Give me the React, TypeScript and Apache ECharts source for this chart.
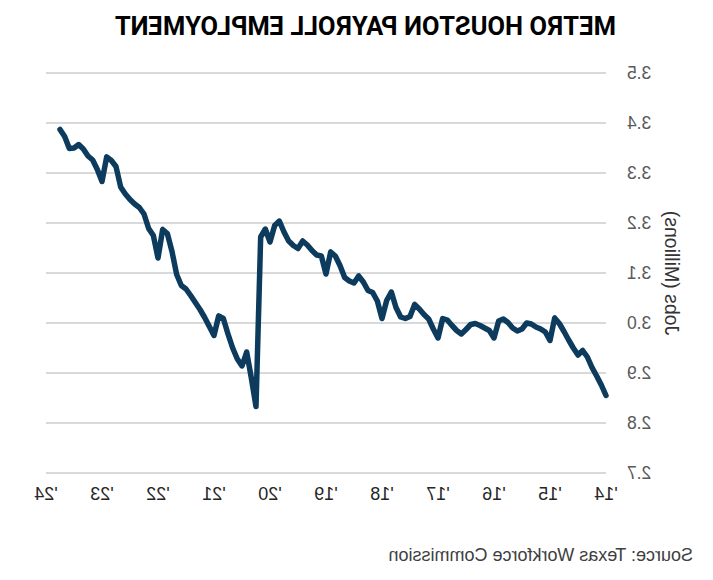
import React, { useEffect, useRef } from "react";
import * as echarts from "echarts";

const title = "METRO HOUSTON PAYROLL EMPLOYMENT";
const source = "Source: Texas Workforce Commission";
const yAxisName = "Jobs (Millions)";
const yearLabels = ["'14", "'15", "'16", "'17", "'18", "'19", "'20", "'21", "'22", "'23", "'24"];

// Monthly payroll employment (millions), Jan 2014 onward
const jobs2014 = [2.855, 2.876, 2.894, 2.911, 2.932, 2.945, 2.936, 2.95, 2.966, 2.983, 2.999, 3.01];
const jobs2015 = [2.965, 2.982, 2.988, 2.992, 2.998, 3.0, 2.988, 2.984, 2.99, 3.001, 3.008, 3.004];
const jobs2016 = [2.97, 2.985, 2.99, 2.995, 2.999, 2.997, 2.987, 2.978, 2.985, 2.995, 3.006, 3.009];
const jobs2017 = [2.97, 2.988, 3.008, 3.017, 3.028, 3.037, 3.013, 3.009, 3.012, 3.031, 3.062, 3.045];
const jobs2018 = [3.009, 3.044, 3.061, 3.065, 3.082, 3.094, 3.08, 3.084, 3.091, 3.115, 3.134, 3.142];
const jobs2019 = [3.098, 3.134, 3.136, 3.145, 3.156, 3.164, 3.149, 3.155, 3.164, 3.182, 3.204, 3.195];
const jobs2020 = [3.162, 3.188, 3.172, 2.833, 2.89, 2.942, 2.914, 2.928, 2.95, 2.978, 3.009, 3.014];
const jobs2021 = [2.975, 2.993, 3.011, 3.027, 3.041, 3.055, 3.068, 3.075, 3.097, 3.143, 3.179, 3.187];
const jobs2022 = [3.13, 3.175, 3.189, 3.218, 3.231, 3.238, 3.247, 3.258, 3.272, 3.313, 3.325, 3.332];
const jobs2023 = [3.283, 3.307, 3.326, 3.334, 3.348, 3.357, 3.35, 3.349, 3.373, 3.387];

const jobs = [
  ...jobs2014, ...jobs2015, ...jobs2016, ...jobs2017, ...jobs2018,
  ...jobs2019, ...jobs2020, ...jobs2021, ...jobs2022, ...jobs2023,
];

export default function App() {
  const ref = useRef<HTMLDivElement>(null);

  useEffect(() => {
    if (!ref.current) return;
    const chart = echarts.init(ref.current, null, { renderer: "svg" });
    const data = jobs.map((v, i) => [i, v]);
    chart.setOption({
      animation: false,
      backgroundColor: "#ffffff",
      grid: { left: 107, right: 46, top: 73, bottom: 107, containLabel: false },
      xAxis: {
        type: "value",
        min: 0,
        max: 120,
        interval: 12,
        axisLine: { show: false },
        axisTick: { show: false },
        splitLine: { show: false },
        axisLabel: {
          margin: 12,
          fontSize: 18,
          color: "#262626",
          fontFamily: "Liberation Sans",
          formatter: (v: number) => yearLabels[Math.round(v / 12)] ?? "",
        },
      },
      yAxis: {
        type: "value",
        min: 2.7,
        max: 3.5,
        interval: 0.1,
        name: yAxisName,
        nameLocation: "middle",
        nameGap: 55,
        nameTextStyle: { fontSize: 19.5, color: "#333333", fontFamily: "Liberation Sans" },
        axisLine: { show: false },
        axisTick: { show: false },
        axisLabel: {
          margin: 21,
          fontSize: 17.5,
          color: "#595959",
          fontFamily: "Liberation Sans",
          formatter: (v: number) => v.toFixed(1),
        },
        splitLine: { lineStyle: { color: "#d9d9d9", width: 2 } },
      },
      series: [
        {
          type: "line",
          data,
          showSymbol: false,
          symbol: "none",
          lineStyle: { color: "#0d3b5e", width: 5.5, cap: "round", join: "round" },
        },
      ],
      graphic: [
        {
          type: "text",
          left: 97,
          top: 13,
          style: {
            text: title,
            fontSize: 25.5,
            fontWeight: "bold",
            fill: "#000000",
            fontFamily: "Roboto",
          },
        },
        {
          type: "text",
          left: 20,
          top: 546,
          style: {
            text: source,
            fontSize: 18,
            fill: "#404040",
            fontFamily: "Liberation Sans",
          },
        },
      ],
    });
    return () => chart.dispose();
  }, []);

  return (
    <div
      ref={ref}
      style={{
        position: "absolute",
        left: 0,
        top: 0,
        width: 713,
        height: 580,
        transform: "scaleX(-1)",
        background: "#ffffff",
      }}
    />
  );
}
